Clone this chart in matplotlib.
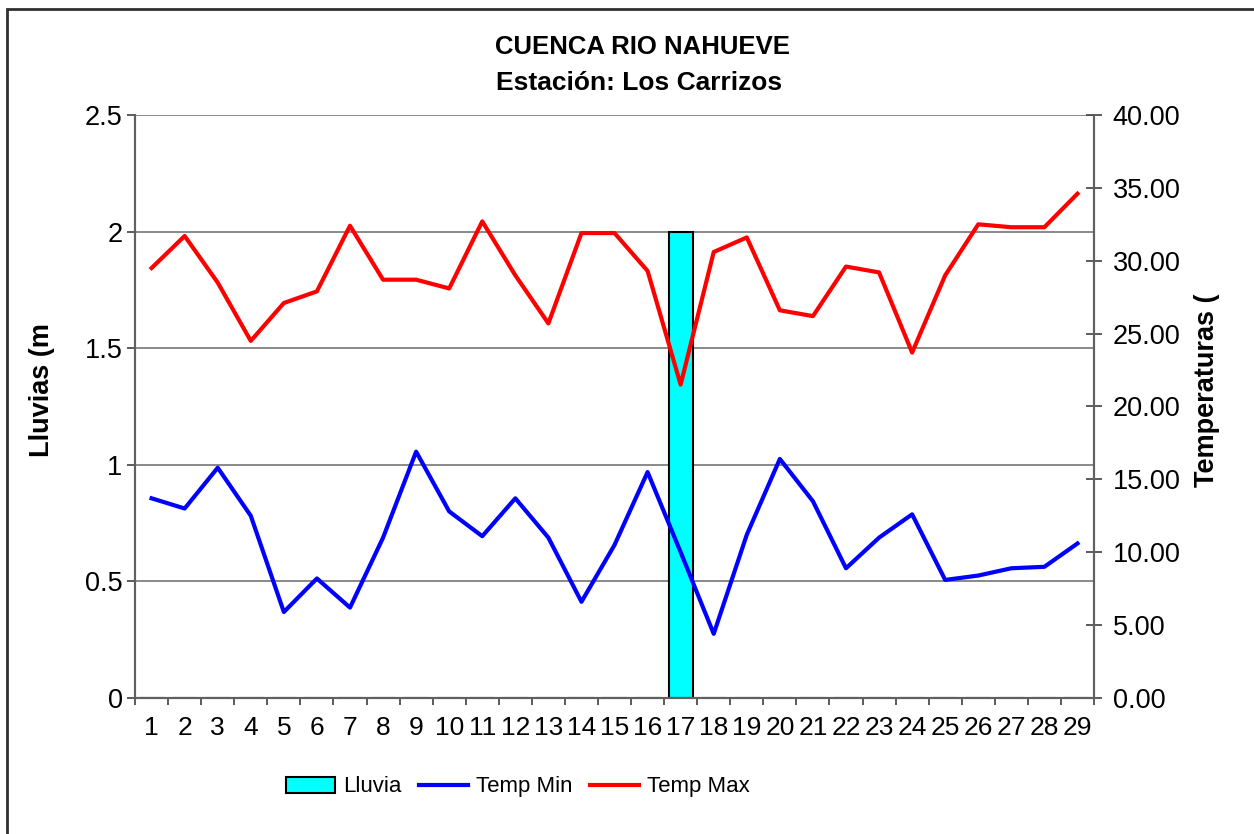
import matplotlib
matplotlib.use("Agg")
import matplotlib.pyplot as plt
from matplotlib import font_manager as fm
from matplotlib.patches import Rectangle
import numpy as np

# daily values
dias = list(range(1, 30))
lluvia = [0, 0, 0, 0, 0, 0, 0, 0, 0, 0, 0, 0, 0, 0, 0, 0, 2.0,
          0, 0, 0, 0, 0, 0, 0, 0, 0, 0, 0, 0]
temp_min = [13.7, 13.0, 15.8, 12.5, 5.9, 8.2, 6.2, 11.0, 16.9, 12.8,
            11.1, 13.7, 11.0, 6.6, 10.5, 15.5, 10.0, 4.4, 11.2, 16.4,
            13.5, 8.9, 11.0, 12.6, 8.1, 8.4, 8.9, 9.0, 10.6]
temp_max = [29.5, 31.7, 28.5, 24.5, 27.1, 27.9, 32.4, 28.7, 28.7, 28.1,
            32.7, 29.0, 25.7, 31.9, 31.9, 29.3, 21.5, 30.6, 31.6, 26.6,
            26.2, 29.6, 29.2, 23.7, 29.0, 32.5, 32.3, 32.3, 34.6]

names = {f.name for f in fm.fontManager.ttflist}
narrow = 'Liberation Sans Narrow' if 'Liberation Sans Narrow' in names else 'Liberation Sans'
leg_size = 18 if narrow == 'Liberation Sans Narrow' else 16
plt.rcParams['font.family'] = ['Liberation Sans', 'DejaVu Sans']

fig = plt.figure(figsize=(12.54, 8.34), dpi=100)
ax = fig.add_axes([0.1077, 0.1631, 0.7647, 0.699])
ax2 = ax.twinx()

ax.bar(dias, lluvia, width=0.73, color='#00FFFF', edgecolor='black',
       linewidth=1.5, label='Lluvia', zorder=2)
ax2.plot(dias, temp_min, color='#0000FF', lw=3, label='Temp Min')
ax2.plot(dias, temp_max, color='#FF0000', lw=3, label='Temp Max')

ax.set_xlim(0.5, 29.5)
ax.set_ylim(0, 2.5)
ax2.set_ylim(0, 40)
ax.set_yticks([0, 0.5, 1, 1.5, 2, 2.5])
ax.set_yticklabels(['0', '0.5', '1', '1.5', '2', '2.5'])
ax2.set_yticks(np.arange(0, 41, 5))
ax2.set_yticklabels(['%.2f' % v for v in np.arange(0, 41, 5)])

ax.yaxis.grid(True, color='#808080', lw=1.3)
ax.set_axisbelow(True)

# ticks between categories, labels in the middle
ax.set_xticks(np.arange(0.5, 30, 1))
ax.set_xticklabels([])
ax.set_xticks(dias, minor=True)
ax.set_xticklabels([str(d) for d in dias], minor=True, fontsize=19, family=narrow)
ax.tick_params(axis='x', which='major', direction='out', length=5, color='#404040', width=1.2)
ax.tick_params(axis='x', which='minor', length=0, pad=13)
ax.tick_params(axis='y', direction='out', length=6, labelsize=19.5, pad=3, color='#404040', width=1.2)
ax2.tick_params(axis='y', direction='inout', length=11, labelsize=19.5, pad=8, color='#404040', width=1.2)

for a in (ax, ax2):
    for s in a.spines.values():
        s.set_color('#606060')
        s.set_linewidth(1.5)
    a.spines['top'].set_visible(False)

fig.text(0.512, 0.9436, 'CUENCA RIO NAHUEVE', ha='center', va='center',
         fontsize=18.5, fontweight='bold')
fig.text(0.510, 0.9005, 'Estación: Los Carrizos', ha='center', va='center',
         fontsize=19, fontweight='bold')
fig.text(0.0335, 0.532, 'Lluvias (m', rotation=90, ha='center', va='center',
         fontsize=19.5, fontweight='bold')
fig.text(0.9625, 0.532, 'Temperaturas (', rotation=90, ha='center', va='center',
         fontsize=19.5, fontweight='bold')

h1, l1 = ax.get_legend_handles_labels()
h2, l2 = ax2.get_legend_handles_labels()
fig.legend(h1 + h2, l1 + l2, loc='center', bbox_to_anchor=(0.413, 0.0564),
           ncol=3, frameon=False, prop={'family': narrow, 'size': leg_size},
           handlelength=2.2, handleheight=0.75, handletextpad=0.35, columnspacing=0.8)

fig.patches.append(Rectangle((0.0056, -0.05), 1.1, 1.039, transform=fig.transFigure,
                             fill=False, edgecolor='#303030', lw=2))

fig.savefig('out.png', dpi=100)
